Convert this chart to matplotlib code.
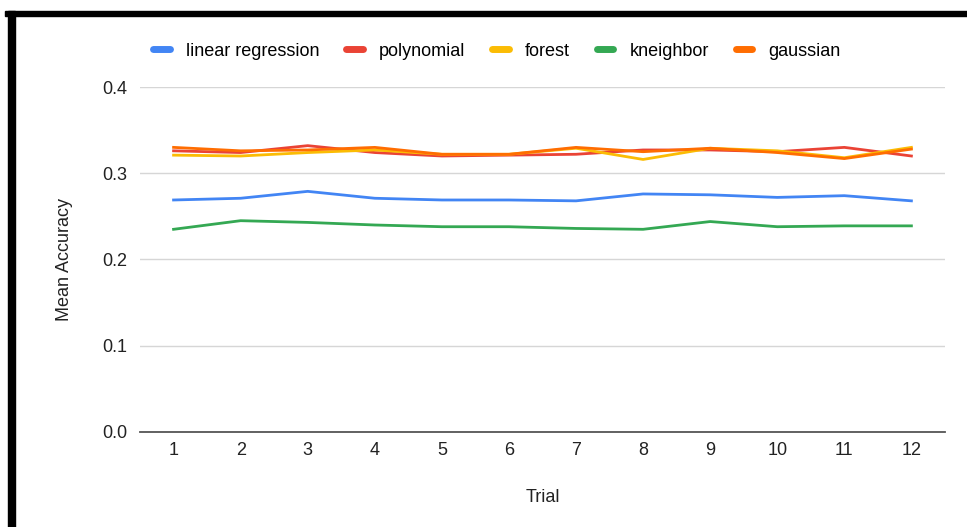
import matplotlib.pyplot as plt
from matplotlib.patches import Rectangle
import numpy as np

plt.rcParams['font.family'] = ['Liberation Sans', 'DejaVu Sans']

trials = list(range(1, 13))
linear_regression = [0.269, 0.271, 0.279, 0.271, 0.269, 0.269, 0.268, 0.276, 0.275, 0.272, 0.274, 0.268]
polynomial = [0.326, 0.324, 0.332, 0.324, 0.320, 0.321, 0.322, 0.327, 0.327, 0.325, 0.330, 0.320]
forest = [0.321, 0.320, 0.324, 0.327, 0.322, 0.322, 0.329, 0.316, 0.329, 0.326, 0.318, 0.330]
kneighbor = [0.235, 0.245, 0.243, 0.240, 0.238, 0.238, 0.236, 0.235, 0.244, 0.238, 0.239, 0.239]
gaussian = [0.330, 0.326, 0.327, 0.330, 0.322, 0.322, 0.330, 0.325, 0.329, 0.324, 0.317, 0.328]

series = [
    ('linear regression', linear_regression, '#4285F4'),
    ('polynomial', polynomial, '#EA4335'),
    ('forest', forest, '#FBBC04'),
    ('kneighbor', kneighbor, '#34A853'),
    ('gaussian', gaussian, '#FF6D01'),
]

fs = 13

fig = plt.figure(figsize=(9.67, 5.27), dpi=100)
ax = fig.add_axes([0.1448, 0.1803, 0.8324, 0.6546])

for name, vals, col in series:
    ax.plot(trials, vals, color=col, lw=2, label=name, solid_joinstyle='round')

ax.set_xlim(0.5, 12.5)
ax.set_ylim(0, 0.4)
ax.set_yticks([0.0, 0.1, 0.2, 0.3, 0.4])
ax.set_yticklabels(['0.0', '0.1', '0.2', '0.3', '0.4'])
ax.set_xticks(trials)
ax.grid(axis='y', color='#d6d6d6', lw=1)
ax.set_axisbelow(True)
for s in ['top', 'right', 'left']:
    ax.spines[s].set_visible(False)
ax.spines['bottom'].set_color('#555555')
ax.spines['bottom'].set_linewidth(1.3)
ax.tick_params(length=0, labelsize=fs, colors='#222222')
ax.tick_params(axis='y', pad=9)
ax.tick_params(axis='x', pad=7)
ax.set_xlabel('Trial', fontsize=fs, color='#222222', labelpad=22)
ax.set_ylabel('Mean Accuracy', fontsize=fs, color='#222222', labelpad=21)

handles = [plt.Line2D([0], [0], color=c, lw=5, solid_capstyle='round') for _, _, c in series]
fig.legend(handles, [n for n, _, _ in series], loc='center', bbox_to_anchor=(0.514, 0.903),
           ncol=5, frameon=False, fontsize=fs, handlelength=0.9, handletextpad=0.9,
           columnspacing=1.5)

# black frame at top and left
fig.patches.append(Rectangle((5 / 967, 1 - 16 / 527), 962 / 967, 5 / 527,
                             transform=fig.transFigure, color='black', zorder=10))
fig.patches.append(Rectangle((8 / 967, 0), 7 / 967, 1 - 11 / 527,
                             transform=fig.transFigure, color='black', zorder=10))

fig.savefig('out.png', dpi=100)
